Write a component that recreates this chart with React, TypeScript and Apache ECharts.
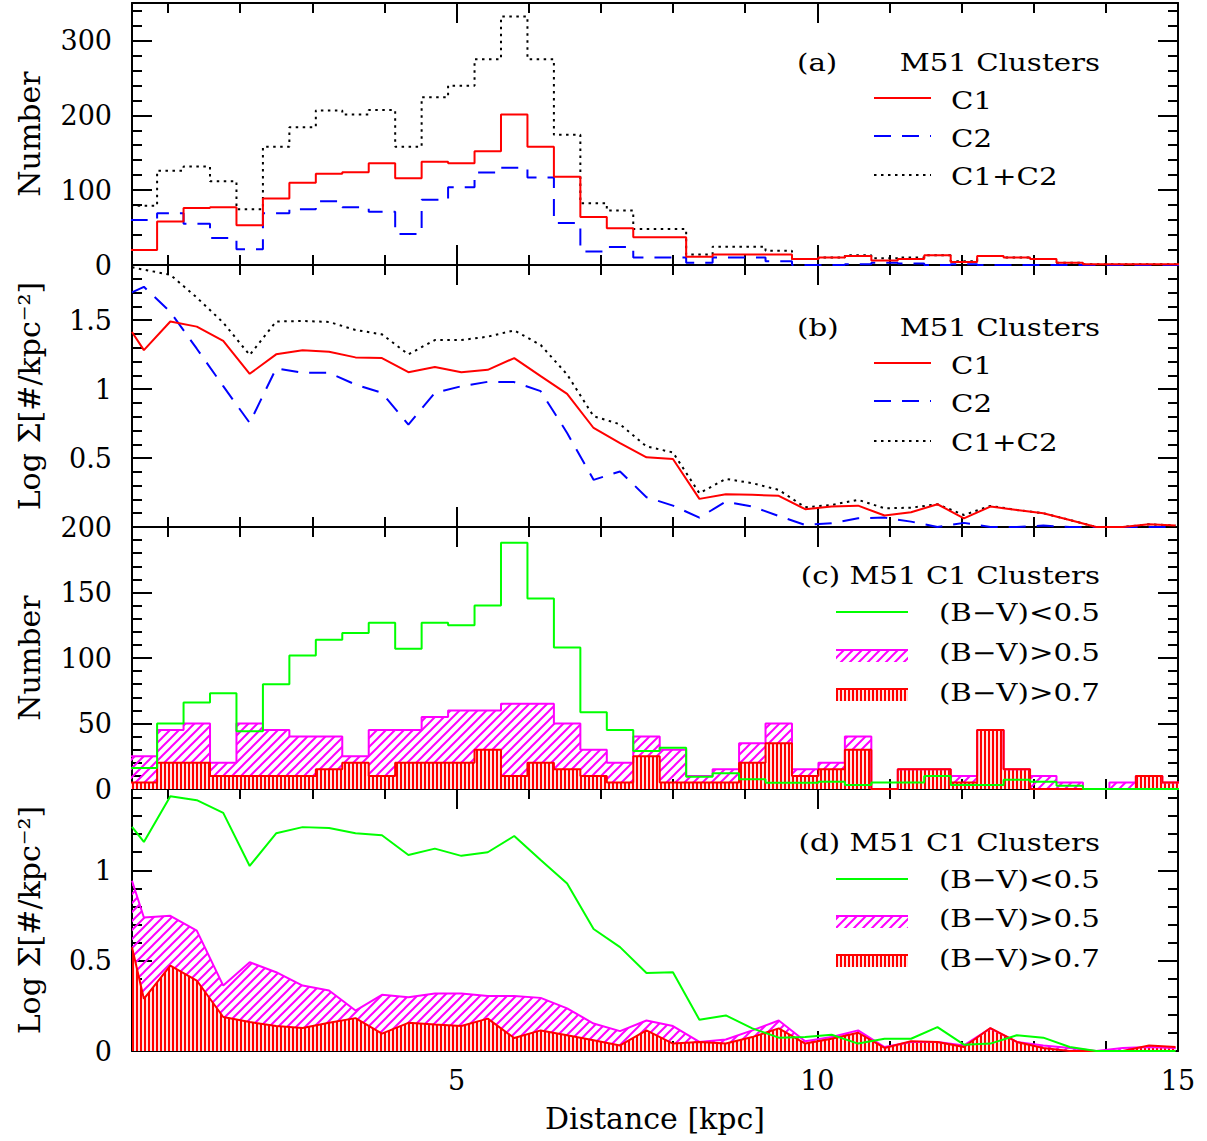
import React, { useEffect, useRef } from 'react';
import * as echarts from 'echarts';

// ---------- shared x axis / binning ----------
const X_MIN = 0.5;
const X_MAX = 15;
const BIN_START = 0.4813;
const BIN_WIDTH = 0.3667;
const X_MAJOR_TICKS = [5, 10, 15];
const X_MINOR_TICKS = [1, 2, 3, 4, 6, 7, 8, 9, 11, 12, 13, 14];

// ---------- (a) histogram counts per radial bin ----------
const countC1 = [20, 58, 76, 77, 53, 89, 110, 122, 124, 136, 116, 138, 136, 152, 201, 158, 118, 64, 49, 37, 37, 11, 14, 14, 14, 8, 10, 12, 6, 8, 13, 4, 12, 10, 8, 3, 1, 1, 1, 1];
const countC2 = [60, 69, 55, 36, 21, 69, 74.5, 85, 77, 71, 41.5, 87, 104, 123.5, 130, 117, 56, 18, 24, 10, 10, 3, 10, 10, 5, 0, 0, 1, 3, 2, 0, 1, 0, 0, 0, 0, 0, 0, 0, 0];
const countC1C2 = [79, 126, 131.5, 112, 74.5, 158, 184, 206.5, 201, 207, 158, 224, 239.5, 275, 332, 275, 174, 82.5, 72.7, 48, 48, 14, 24.5, 24.5, 19, 8, 10, 13, 9, 10, 13, 5, 12, 10, 8, 3, 1, 1, 1, 1];

// ---------- (b) log surface density: first value at X_MIN, then bin centres ----------
const logC1 = [1.414, 1.283, 1.49, 1.453, 1.349, 1.111, 1.252, 1.281, 1.271, 1.23, 1.225, 1.123, 1.16, 1.123, 1.14, 1.225, 1.094, 0.966, 0.718, 0.609, 0.505, 0.493, 0.204, 0.238, 0.233, 0.226, 0.129, 0.148, 0.155, 0.083, 0.107, 0.165, 0.063, 0.148, 0.124, 0.1, 0.051, 0, 0, 0.02, 0.01];
const logC2 = [1.701, 1.742, 1.56, 1.293, 1.021, 0.755, 1.15, 1.118, 1.118, 1.033, 0.973, 0.742, 0.973, 1.021, 1.053, 1.051, 0.985, 0.682, 0.342, 0.403, 0.216, 0.155, 0.068, 0.184, 0.148, 0.08, 0.015, 0.027, 0.063, 0.068, 0.039, 0, 0.03, 0, 0, 0.01, 0, 0, 0, 0, 0];
const logC1C2 = [1.883, 1.866, 1.829, 1.664, 1.482, 1.247, 1.49, 1.494, 1.487, 1.429, 1.397, 1.252, 1.356, 1.356, 1.38, 1.426, 1.32, 1.106, 0.803, 0.745, 0.584, 0.541, 0.245, 0.349, 0.318, 0.269, 0.143, 0.16, 0.197, 0.136, 0.14, 0.165, 0.087, 0.153, 0.124, 0.1, 0.051, 0, 0, 0.02, 0.01];

// ---------- (c) C1 colour-selected counts ----------
const countBlue = [16, 50, 66, 73, 44, 80, 102, 114, 119, 127, 107, 127, 125, 140, 188, 145.5, 108, 58.5, 45, 29, 31.5, 9.4, 12, 7.4, 4.8, 4.8, 5.6, 3, 5, 5, 10, 3, 3, 7, 5.6, 2.5, 0, 0, 0, 0];
const countRed05 = [25, 45, 50, 20, 50, 45, 40, 40, 25, 45, 45, 55, 60, 60, 65, 65, 50, 30, 20, 40, 30, 10, 15, 35, 50, 15, 20, 40, 0, 15, 15, 10, 45, 15, 10, 5, 0, 5, 10, 5];
const countRed07 = [5, 20, 20, 10, 10, 10, 10, 15, 20, 10, 20, 20, 20, 30, 10, 20, 15, 10, 5, 25, 5, 5, 5, 20, 35, 10, 15, 30, 0, 15, 15, 5, 45, 15, 0, 0, 0, 0, 10, 5];

// ---------- (d) C1 colour-selected log surface density ----------
const logBlue = [1.241, 1.157, 1.41, 1.388, 1.318, 1.024, 1.205, 1.239, 1.234, 1.205, 1.194, 1.085, 1.12, 1.08, 1.1, 1.19, 1.057, 0.927, 0.675, 0.575, 0.432, 0.436, 0.173, 0.197, 0.125, 0.074, 0.077, 0.09, 0.041, 0.068, 0.068, 0.132, 0.035, 0.041, 0.087, 0.074, 0.022, 0, 0, 0, 0];
const logRed05 = [0.942, 0.739, 0.748, 0.666, 0.362, 0.491, 0.436, 0.362, 0.335, 0.224, 0.311, 0.298, 0.318, 0.318, 0.305, 0.305, 0.294, 0.236, 0.152, 0.11, 0.169, 0.138, 0.05, 0.064, 0.114, 0.169, 0.054, 0.077, 0.114, 0.022, 0.05, 0.05, 0.031, 0.125, 0.05, 0.031, 0.017, 0, 0.017, 0.022, 0.017];
const logRed07 = [0.574, 0.289, 0.473, 0.39, 0.188, 0.16, 0.138, 0.127, 0.156, 0.182, 0.096, 0.156, 0.146, 0.138, 0.179, 0.072, 0.114, 0.087, 0.059, 0.031, 0.114, 0.041, 0.05, 0.041, 0.077, 0.125, 0.041, 0.068, 0.101, 0.017, 0.054, 0.05, 0.022, 0.127, 0.05, 0.017, 0, 0, 0, 0.031, 0.022];

// ---------- y axes of the four panels ----------
const Y_MAX = [350, 1.9, 200, 1.45];
const Y_MAJOR_TICKS = [[0, 100, 200, 300], [0, 0.5, 1, 1.5], [0, 50, 100, 150, 200], [0, 0.5, 1]];
const Y_MINOR_TICKS = [
  [20, 40, 60, 80, 120, 140, 160, 180, 220, 240, 260, 280, 320, 340],
  [0.1, 0.2, 0.3, 0.4, 0.6, 0.7, 0.8, 0.9, 1.1, 1.2, 1.3, 1.4, 1.6, 1.7, 1.8],
  [10, 20, 30, 40, 60, 70, 80, 90, 110, 120, 130, 140, 160, 170, 180, 190],
  [0.1, 0.2, 0.3, 0.4, 0.6, 0.7, 0.8, 0.9, 1.1, 1.2, 1.3, 1.4],
];
const Y_TICK_LABELS = [[0, 100, 200, 300], [0.5, 1, 1.5], [0, 50, 100, 150, 200], [0, 0.5, 1]];
const Y_NAMES = ['Number', 'Log Σ[#/kpc⁻²]', 'Number', 'Log Σ[#/kpc⁻²]'];
const X_NAME = 'Distance [kpc]';

const PANEL_TITLES = ['M51 Clusters', 'M51 Clusters', '(c) M51 C1 Clusters', '(d) M51 C1 Clusters'];
const LABELS_AB = ['C1', 'C2', 'C1+C2'];
const LABELS_CD = ['(B−V)<0.5', '(B−V)>0.5', '(B−V)>0.7'];

const RED = '#ff0000';
const BLUE = '#0000ff';
const GREEN = '#00ff00';
const MAGENTA = '#ff00ff';
const SERIF = 'DejaVu Serif';

const GRID_TOP = [3, 265, 527, 789];
const GRID_H = 262;

function makeHatch(kind: 'diag' | 'vert') {
  const c = document.createElement('canvas');
  if (kind === 'diag') {
    c.width = 9;
    c.height = 9;
    const ctx = c.getContext('2d')!;
    ctx.strokeStyle = MAGENTA;
    ctx.lineWidth = 2;
    ctx.beginPath();
    ctx.moveTo(-1, 10); ctx.lineTo(10, -1);
    ctx.moveTo(-1, 1); ctx.lineTo(1, -1);
    ctx.moveTo(8, 10); ctx.lineTo(10, 8);
    ctx.stroke();
    return { image: c.toDataURL(), repeat: 'repeat', imageWidth: 9, imageHeight: 9 };
  }
  c.width = 4;
  c.height = 4;
  const ctx = c.getContext('2d')!;
  ctx.fillStyle = '#ffe4e4';
  ctx.fillRect(0, 0, 4, 4);
  ctx.fillStyle = RED;
  ctx.fillRect(0, 0, 2, 4);
  return { image: c.toDataURL(), repeat: 'repeat', imageWidth: 4, imageHeight: 4 };
}

const histData = (vals: number[]) => {
  const d = vals.map((v, i) => [BIN_START + i * BIN_WIDTH, v]);
  d.push([BIN_START + vals.length * BIN_WIDTH, vals[vals.length - 1]]);
  return d;
};
const profData = (vals: number[]) =>
  vals.map((v, i) => [i === 0 ? X_MIN : BIN_START + (i - 0.5) * BIN_WIDTH, v]);

export default function App() {
  const ref = useRef<HTMLDivElement>(null);

  useEffect(() => {
    if (!ref.current) return;
    const chart = echarts.init(ref.current, undefined, { renderer: 'svg' });
    const diag = makeHatch('diag');
    const vert = makeHatch('vert');

    const grids = GRID_TOP.map((t) => ({
      left: 132, right: 29, top: t, height: GRID_H, containLabel: false, outerBoundsMode: 'none',
    }));

    const xAxes: any[] = [];
    const yAxes: any[] = [];
    for (let g = 0; g < 4; g++) {
      for (const pos of ['bottom', 'top']) {
        for (const major of [true, false]) {
          const showLabel = major && pos === 'bottom' && g === 3;
          xAxes.push({
            type: 'value', gridIndex: g, min: X_MIN, max: X_MAX, position: pos,
            axisLine: { show: major, onZero: false, lineStyle: { color: '#000', width: 2 } },
            axisTick: {
              show: true, inside: true, length: major ? 20 : 10,
              lineStyle: { color: '#000', width: 2 },
              customValues: major ? X_MAJOR_TICKS : X_MINOR_TICKS,
            },
            axisLabel: {
              show: showLabel, customValues: X_MAJOR_TICKS, color: '#000',
              fontFamily: SERIF, fontSize: 27, margin: 16,
            },
            splitLine: { show: false },
            name: showLabel ? X_NAME : '',
            nameLocation: 'middle', nameGap: 52,
            nameTextStyle: { fontFamily: SERIF, fontSize: 30, color: '#000' },
          });
        }
      }
      for (const pos of ['left', 'right']) {
        for (const major of [true, false]) {
          const showLabel = major && pos === 'left';
          yAxes.push({
            type: 'value', gridIndex: g, min: 0, max: Y_MAX[g], position: pos,
            axisLine: { show: major, onZero: false, lineStyle: { color: '#000', width: 2 } },
            axisTick: {
              show: true, inside: true, length: major ? 20 : 10,
              lineStyle: { color: '#000', width: 2 },
              customValues: major ? Y_MAJOR_TICKS[g] : Y_MINOR_TICKS[g],
            },
            axisLabel: {
              show: showLabel, customValues: Y_TICK_LABELS[g], color: '#000',
              fontFamily: SERIF, fontSize: 27, margin: 20,
            },
            splitLine: { show: false },
            name: showLabel ? Y_NAMES[g] : '',
            nameLocation: 'middle', nameRotate: 90, nameGap: 88,
            nameTextStyle: { fontFamily: SERIF, fontSize: 30, color: '#000' },
          });
        }
      }
    }

    const ax = (g: number) => ({ xAxisIndex: 4 * g, yAxisIndex: 4 * g });
    const base = { type: 'line', symbol: 'none', silent: true, clip: true };

    const series: any[] = [
      // (a)
      { ...base, ...ax(0), name: 'C1+C2', step: 'end', data: histData(countC1C2), lineStyle: { color: '#000', width: 2, type: [2.5, 4.5] } },
      { ...base, ...ax(0), name: 'C2', step: 'end', data: histData(countC2), lineStyle: { color: BLUE, width: 2, type: [17, 11] } },
      { ...base, ...ax(0), name: 'C1', step: 'end', data: histData(countC1), lineStyle: { color: RED, width: 2 } },
      // (b)
      { ...base, ...ax(1), name: 'C1+C2', data: profData(logC1C2), lineStyle: { color: '#000', width: 2, type: [2.5, 4.5] } },
      { ...base, ...ax(1), name: 'C2', data: profData(logC2), lineStyle: { color: BLUE, width: 2, type: [17, 11] } },
      { ...base, ...ax(1), name: 'C1', data: profData(logC1), lineStyle: { color: RED, width: 2 } },
      // (c)
      { ...base, ...ax(2), name: '>0.5', step: 'end', data: histData(countRed05), lineStyle: { color: MAGENTA, width: 2 }, areaStyle: { color: diag, opacity: 1 } },
      { ...base, ...ax(2), name: '>0.7', step: 'end', data: histData(countRed07), lineStyle: { color: RED, width: 2 }, areaStyle: { color: vert, opacity: 1 } },
      { ...base, ...ax(2), name: '<0.5', step: 'end', data: histData(countBlue), lineStyle: { color: GREEN, width: 2 } },
      // (d)
      { ...base, ...ax(3), name: '>0.5', data: profData(logRed05), lineStyle: { color: MAGENTA, width: 2 }, areaStyle: { color: diag, opacity: 1 } },
      { ...base, ...ax(3), name: '>0.7', data: profData(logRed07), lineStyle: { color: RED, width: 2 }, areaStyle: { color: vert, opacity: 1 } },
      { ...base, ...ax(3), name: '<0.5', data: profData(logBlue), lineStyle: { color: GREEN, width: 2 } },
    ];

    // ---------- annotation / legends ----------
    const FONT = `24px "${SERIF}"`;
    const SX = 1.22;
    const txt = (text: string, x: number, y: number, align: string) => ({
      type: 'text', x, y, scaleX: SX, silent: true, z: 50,
      style: { text, fill: '#000', font: FONT, align, verticalAlign: 'middle' },
    });
    const seg = (x1: number, x2: number, y: number, stroke: string, dash?: number[]) => ({
      type: 'line', silent: true, z: 50,
      shape: { x1, y1: y, x2, y2: y },
      style: { stroke, lineWidth: 2, lineDash: dash || null },
    });
    const swatch = (x: number, y: number, w: number, h: number, fill: any, stroke: string) => ([
      { type: 'rect', silent: true, z: 50, shape: { x, y, width: w, height: h }, style: { fill } },
      seg(x, x + w, y, stroke),
    ]);

    const graphic: any[] = [];
    // (a) and (b)
    const abTitleY = [62, 327];
    const abRowY = [[100, 138, 176], [365, 403, 442]];
    ['(a)', '(b)'].forEach((tag, p) => {
      graphic.push(txt(tag, 797, abTitleY[p], 'left'));
      graphic.push(txt(PANEL_TITLES[p], 1100, abTitleY[p], 'right'));
      const rows = abRowY[p];
      graphic.push(seg(874, 931, rows[0] - 2, RED));
      graphic.push(seg(874, 931, rows[1] - 2, BLUE, [17, 11]));
      graphic.push(seg(874, 931, rows[2] - 1, '#000', [2.5, 4.5]));
      LABELS_AB.forEach((l, i) => graphic.push(txt(l, 951, rows[i], 'left')));
    });
    // (c) and (d)
    const cdTitleY = [575, 842];
    const cdRowY = [[612, 652, 692], [879, 918, 958]];
    [2, 3].forEach((p, k) => {
      graphic.push(txt(PANEL_TITLES[p], 1100, cdTitleY[k], 'right'));
      const rows = cdRowY[k];
      graphic.push(seg(836, 908, rows[0], GREEN));
      graphic.push(...swatch(836, rows[1] - 2, 72, 12, diag, MAGENTA));
      graphic.push(...swatch(836, rows[2] - 3, 72, 12, vert, RED));
      LABELS_CD.forEach((l, i) => graphic.push(txt(l, 1100, rows[i], 'right')));
    });

    chart.setOption({
      animation: false,
      backgroundColor: '#fff',
      textStyle: { fontFamily: SERIF },
      grid: grids,
      xAxis: xAxes,
      yAxis: yAxes,
      series,
      graphic,
    });
    return () => chart.dispose();
  }, []);

  return (
    <div
      ref={ref}
      style={{ position: 'absolute', left: 0, top: 0, width: 1207, height: 1141, background: '#fff' }}
    />
  );
}
